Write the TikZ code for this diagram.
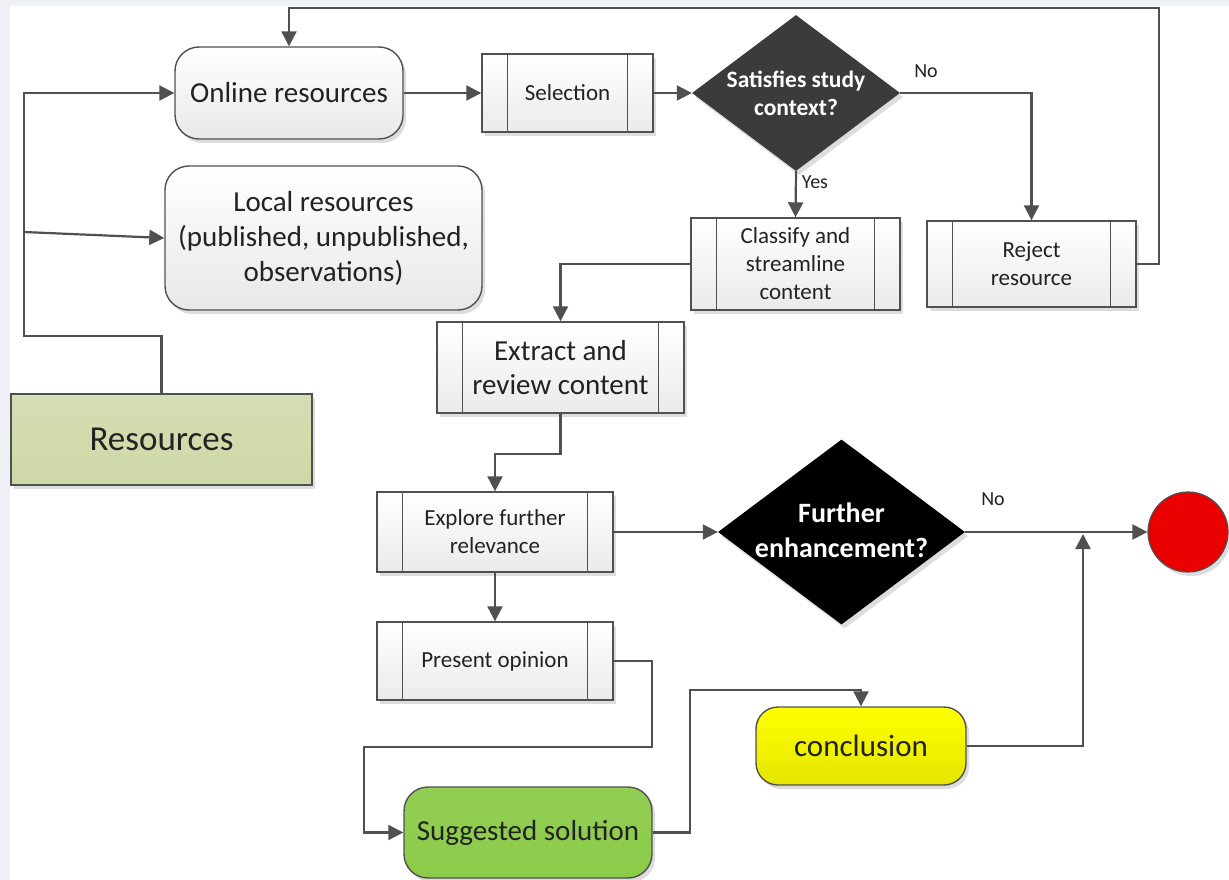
\documentclass[tikz,border=0pt]{standalone}
\usepackage{fontspec}
\setmainfont{Carlito}
\usetikzlibrary{arrows.meta,shapes.geometric,shadows}
\definecolor{lc}{HTML}{505050}
\definecolor{bgout}{HTML}{EEF2F6}
\definecolor{resg}{HTML}{CDD8A6}
\definecolor{dec}{HTML}{3B3B3B}
\definecolor{sugg}{HTML}{8CCB4A}
\definecolor{txt}{HTML}{222222}
\tikzset{
  shad/.style={drop shadow={shadow xshift=3pt,shadow yshift=-4pt,opacity=0.22,fill=black!60}},
  basebox/.style={draw=lc, line width=1.4pt, inner sep=0pt, align=center, text=txt, shad},
  rbox/.style={basebox, rounded corners=24pt, top color=white, bottom color=black!9},
  proc/.style={basebox, top color=white, bottom color=black!8, font=\fontsize{23}{28}\selectfont},
  resbox/.style={basebox, top color=resg!85, bottom color=resg, font=\fontsize{35}{40}\selectfont},
  decnode/.style={diamond, inner sep=0pt, text=white, shad},
  conn/.style={draw=lc, line width=2.2pt, -{Triangle[length=15pt,width=15pt]}},
  lbl/.style={text=txt, font=\fontsize{20}{24}\selectfont, inner sep=0pt},
  procline/.style={draw=lc, line width=1.4pt}
}
\begin{document}
\begin{tikzpicture}[x=1pt,y=-1pt]
\fill[bgout] (0,0) rectangle (1229,880);
\fill[white] (10,6) rectangle (1229,880);
\useasboundingbox (0,0) rectangle (1229,880);

% nodes
\node[rbox, minimum width=228, minimum height=92, font=\fontsize{29}{35}\selectfont] (online) at (289,93) {Online resources};
\node[rbox, minimum width=317, minimum height=144, font=\fontsize{29}{35}\selectfont] (local) at (323.5,238) {Local resources\\(published, unpublished,\\observations)};
\node[resbox, minimum width=301, minimum height=91] (res) at (161.5,439.5) {Resources};
\node[proc, minimum width=171, minimum height=78] (sel) at (567.5,93) {Selection};
\node[decnode, fill=dec, minimum width=208, minimum height=156] (sat) at (796,93) {};
\node[text=white, align=center, inner sep=0pt, font=\fontsize{23.5}{28}\selectfont\bfseries] (satt) at (796,93) {Satisfies study\\context?};
\node[proc, minimum width=209, minimum height=92] (cls) at (795.5,264) {Classify and\\streamline\\content};
\node[proc, minimum width=209, minimum height=86] (rej) at (1031.5,264) {Reject\\resource};
\node[proc, minimum width=247, minimum height=91, font=\fontsize{29}{34}\selectfont] (ext) at (560.5,367.5) {Extract and\\review content};
\node[proc, minimum width=236, minimum height=80] (exp) at (495,532) {Explore further\\relevance};
\node[decnode, fill=black, minimum width=247, minimum height=185] (enh) at (841.5,532) {};
\node[text=white, align=center, inner sep=0pt, font=\fontsize{28}{35}\selectfont\bfseries] (enht) at (841.5,530.5) {Further\\enhancement?};
\node[circle, draw=lc, line width=1.2pt, fill=red!92!black, minimum size=80, inner sep=0pt, shad] (end) at (1188,532) {};
\node[proc, minimum width=236, minimum height=78] (pre) at (495,661) {Present opinion};
\node[rbox, rounded corners=22pt, top color=yellow, bottom color=yellow!90!black, minimum width=210, minimum height=78, font=\fontsize{31}{36}\selectfont] (conc) at (861,746) {conclusion};
\node[rbox, rounded corners=24pt, top color=sugg!95, bottom color=sugg, minimum width=248, minimum height=91, font=\fontsize{29}{34}\selectfont] (sug) at (528,832.5) {Suggested solution};

% predefined-process inner lines
\foreach \n in {sel,cls,rej,ext,exp,pre}{
  \draw[procline] ([xshift=26pt]\n.north west) -- ([xshift=26pt]\n.south west);
  \draw[procline] ([xshift=-26pt]\n.north east) -- ([xshift=-26pt]\n.south east);
}

% labels
\node[lbl] (yes) at (815,182) {Yes};
\node[lbl] (no1) at (926,71) {No};
\node[lbl] (no2) at (993,499) {No};

% helper coordinates
\coordinate (c1) at (1159,8);
\coordinate (c2) at (652,747);
\coordinate (c3) at (364,747);
\coordinate (c4) at (690,690);
\coordinate (c5) at (1083,534);
\coordinate (c6) at (24,336);
\coordinate (c7) at (24,232);

% connectors
\draw[conn] (res.north) |- (c6) |- (online.west);
\draw[conn] (c7) -- (local.west);
\draw[conn] (online.east) -- (sel.west);
\draw[conn] (sel.east) -- (sat.west);
\draw[conn] (sat.south) -- (cls.north);
\draw[conn] (sat.east) -| (rej.north);
\draw[conn] (rej.east) -| (c1) -| (online.north);
\draw[conn] (cls.west) -| (ext.north);
\draw[conn] (ext.south) -- ++(0,40) -| (exp.north);
\draw[conn] (exp.east) -- (enh.west);
\draw[conn] (enh.east) -- (end.west);
\draw[conn] (exp.south) -- (pre.north);
\draw[conn] (pre.east) -| (c2) -- (c3) |- (sug.west);
\draw[conn] (sug.east) -| (c4) -| (conc.north);
\draw[conn] (conc.east) -| (c5);
\end{tikzpicture}
\end{document}
